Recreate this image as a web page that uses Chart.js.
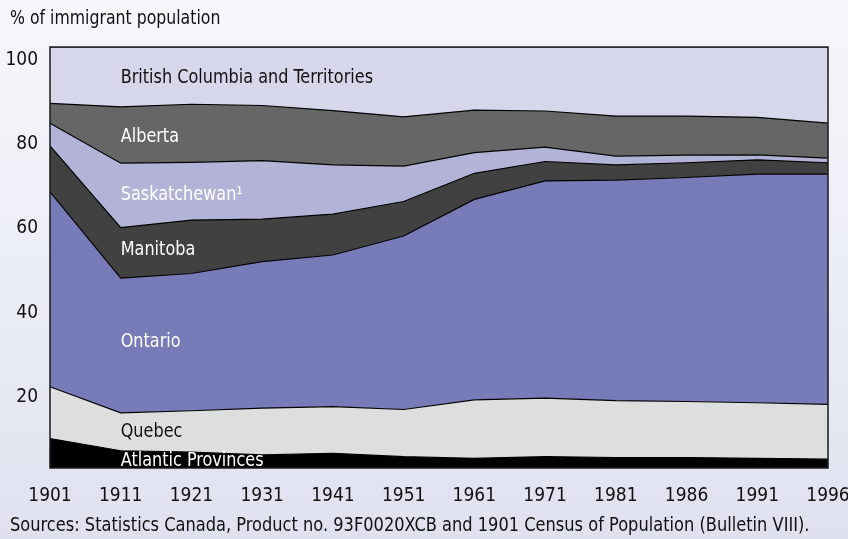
<!DOCTYPE html>
<html>
<head>
<meta charset="utf-8">
<script src="https://cdn.jsdelivr.net/npm/chart.js@4.4.1/dist/chart.umd.min.js"></script>
<style>
  html, body { margin: 0; padding: 0; }
  body {
    width: 848px; height: 539px; overflow: hidden;
    background: linear-gradient(to bottom, #f6f7fb 0%, #eceef6 50%, #dfe1ef 100%);
  }
  #wrap { position: relative; width: 848px; height: 539px; }
</style>
</head>
<body>
<div id="wrap"><canvas id="immChart" width="848" height="539"></canvas></div>
<script>
// Données (% de la population immigrante)
const years = ['1901', '1911', '1921', '1931', '1941', '1951', '1961', '1971', '1981', '1986', '1991', '1996'];
const atlantic     = [7.0, 4.1, 3.8, 3.1, 3.5, 2.7, 2.3, 2.7, 2.5, 2.5, 2.3, 2.1];
const quebec       = [12.3, 9.0, 9.8, 11.1, 11.1, 11.2, 13.9, 13.9, 13.5, 13.3, 13.2, 13.0];
const ontario      = [46.3, 32.0, 32.6, 34.8, 36.0, 41.2, 47.6, 51.6, 52.4, 53.2, 54.3, 54.7];
const manitoba     = [10.9, 12.0, 12.7, 10.1, 9.7, 8.2, 6.2, 4.6, 3.6, 3.5, 3.4, 2.7];
const saskatchewan = [5.4, 15.3, 13.7, 13.9, 11.7, 8.4, 4.9, 3.4, 2.1, 1.8, 1.2, 1.1];
const alberta      = [4.7, 13.4, 13.8, 13.1, 12.9, 11.7, 10.1, 8.6, 9.5, 9.3, 8.9, 8.3];
const bcTerr       = [13.4, 14.2, 13.6, 13.9, 15.1, 16.6, 15.0, 15.2, 16.4, 16.4, 16.7, 18.1];
const yTicks = [20, 40, 60, 80, 100];

const FONT = "'DejaVu Sans Condensed', 'Liberation Sans', sans-serif";

// Etiquettes dans les aires (x = index de catégorie, y = valeur)
const areaLabels = [
    { text: 'British Columbia and Territories', x: 1, y: 92.6, color: '#111' },
    { text: 'Alberta', x: 1, y: 78.6, color: '#fff' },
    { text: 'Saskatchewan\u00B9', x: 1, y: 64.8, color: '#fff' },
    { text: 'Manitoba', x: 1, y: 51.8, color: '#fff' },
    { text: 'Ontario', x: 1, y: 29.9, color: '#fff' },
    { text: 'Quebec', x: 1, y: 8.6, color: '#111' },
    { text: 'Atlantic Provinces', x: 1, y: 1.7, color: '#fff' }
];

function serie(label, data, color, fill) {
    return {
        label: label,
        data: data,
        backgroundColor: color,
        borderColor: '#000',
        borderWidth: 1.2,
        pointRadius: 0,
        tension: 0,
        fill: fill
    };
}

// texte un peu resserré (police condensée d'origine)
function narrowText(ctx, text, x, y, k) {
    ctx.save();
    ctx.translate(x, y);
    ctx.scale(k, 1);
    ctx.fillText(text, 0, 0);
    ctx.restore();
}

const framePlugin = {
    id: 'frame',
    afterDatasetsDraw(chart) {
        const { ctx, chartArea: a, scales } = chart;
        ctx.save();
        ctx.font = '19px ' + FONT;
        ctx.textBaseline = 'middle';
        ctx.textAlign = 'left';
        areaLabels.forEach(l => {
            ctx.fillStyle = l.color;
            narrowText(ctx, l.text, scales.x.getPixelForValue(l.x), scales.y.getPixelForValue(l.y), 0.94);
        });
        // cadre
        ctx.strokeStyle = '#1a1a1a';
        ctx.lineWidth = 1.5;
        ctx.strokeRect(a.left, a.top, a.right - a.left, a.bottom - a.top);
        // titre et source
        ctx.fillStyle = '#111';
        narrowText(ctx, '% of immigrant population', 10, 19, 0.92);
        narrowText(ctx, 'Sources: Statistics Canada, Product no. 93F0020XCB and 1901 Census of Population (Bulletin VIII).', 10, 526, 0.95);
        ctx.restore();
    }
};

new Chart(document.getElementById('immChart'), {
    type: 'line',
    data: {
        labels: years,
        datasets: [
            serie('Atlantic Provinces', atlantic, '#000000', 'origin'),
            serie('Quebec', quebec, '#dedede', '-1'),
            serie('Ontario', ontario, '#777bb8', '-1'),
            serie('Manitoba', manitoba, '#414141', '-1'),
            serie('Saskatchewan', saskatchewan, '#b3b3d8', '-1'),
            serie('Alberta', alberta, '#666666', '-1'),
            serie('British Columbia and Territories', bcTerr, '#d6d7ea', '-1')
        ]
    },
    options: {
        responsive: false,
        animation: false,
        layout: { padding: { top: 47, right: 20, left: 0, bottom: 0 } },
        plugins: { legend: { display: false }, tooltip: { enabled: false } },
        scales: {
            x: {
                offset: false,
                grid: { display: false, drawTicks: false },
                border: { display: false },
                ticks: { color: '#111', font: { family: FONT, size: 19 }, padding: 17, maxRotation: 0, autoSkip: false },
                afterFit(s) { s.height = 71; s.paddingLeft = 0; s.paddingRight = 0; }
            },
            y: {
                stacked: true,
                min: 0,
                max: 100,
                grid: { display: false, drawTicks: false },
                border: { display: false },
                afterBuildTicks(s) { s.ticks = [0].concat(yTicks).map(v => ({ value: v })); },
                ticks: {
                    color: '#111',
                    font: { family: FONT, size: 19 },
                    padding: 12,
                    labelOffset: 13,
                    callback: v => (v === 0 ? '' : v)
                },
                afterFit(s) { s.width = 50; }
            }
        }
    },
    plugins: [framePlugin]
});
</script>
</body>
</html>
